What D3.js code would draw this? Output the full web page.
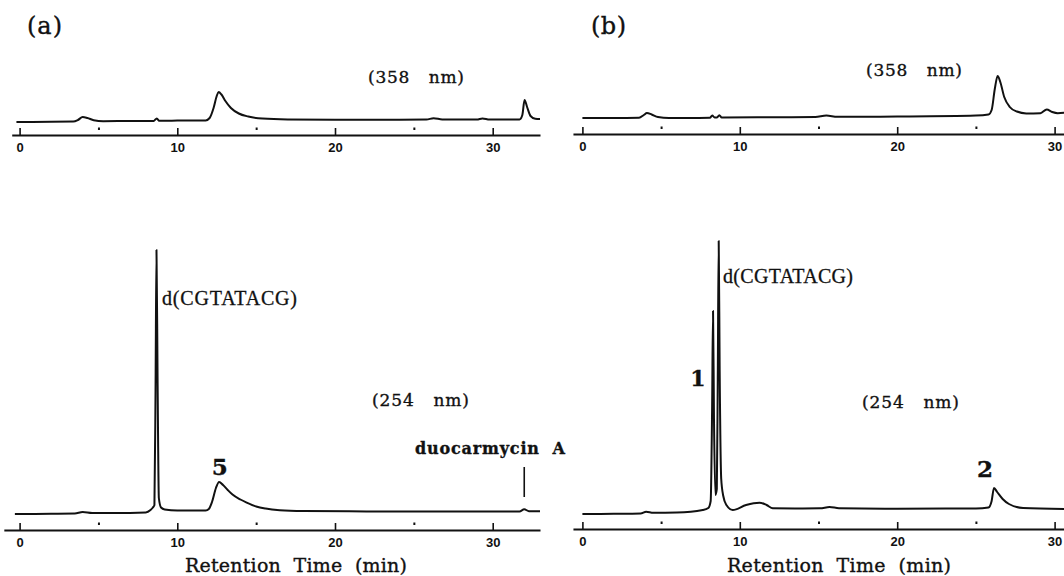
<!DOCTYPE html>
<html>
<head>
<meta charset="utf-8">
<script src="https://cdn.jsdelivr.net/npm/d3@7"></script>
<style>
  html, body { margin: 0; padding: 0; background: #fff; }
  svg { display: block; }
  .serif { font-family: "DejaVu Serif", serif; fill: #111; stroke: #111; stroke-width: 0.35px; }
  .times { font-family: "Liberation Serif", "Times New Roman", serif; fill: #111; stroke: #111; stroke-width: 0.3px; }
</style>
</head>
<body>
<svg id="chart" width="1064" height="576"></svg>
<script>
// ---------------- data (retention time in min, absorbance in arbitrary units) ----------------
const majorTicks = [0, 10, 20, 30];
const minorTicks = [5, 15, 25];

// (a) 358 nm
const traceA358 = [
  [-0.2,13],[2,13.2],[3.4,13.4],[3.7,15],[4.0,18],[4.3,17],[4.7,14.8],[5.3,13.8],[7,14],[8.5,14.1],
  [8.7,16.5],[8.85,14.3],[10,14.4],[11.8,14.6],[12.05,17],[12.3,27],[12.5,39],[12.62,43],[12.8,40.5],
  [13.05,34],[13.4,27],[13.9,21.5],[14.5,18.5],[15.4,16.4],[17,15.5],[20,15.2],[23,15.2],[25.8,15.4],
  [26.25,16.8],[26.8,15.6],[29,15.4],[29.35,16.6],[29.8,15.5],[31.7,15.5],[31.88,20],[32.02,35],
  [32.18,28],[32.4,19],[32.7,16.3],[33.0,16]
];
// (a) 254 nm
const traceA254 = [
  [-0.3,16],[2,16.2],[3.5,16.4],[4.0,18],[4.6,17],[6,17],[8,17.6],[8.3,20],[8.45,22.5],[8.55,25],
  [8.62,140],[8.68,280],[8.75,150],[8.83,32],[8.97,22.5],[9.2,20.5],[10,19.5],[11.8,19.5],[12.0,21],
  [12.2,28],[12.45,42],[12.65,48],[12.9,45],[13.2,40],[13.5,35.5],[14,30.5],[14.4,27.4],[15,23.5],
  [15.6,21.4],[16.5,19.8],[18,19],[22,18.6],[26,18.6],[31.7,18.6],[32.0,20.7],[32.3,18.8],[33.0,18.7]
];
// (b) 358 nm
const traceB358 = [
  [0,16],[2,16],[3.6,16.3],[3.9,19],[4.1,21],[4.4,19.5],[4.8,17],[5.5,16],[8.1,16.2],[8.25,18.5],
  [8.4,16.5],[8.55,16.6],[8.7,18.8],[8.85,16.6],[12,16.8],[14.8,17],[15.5,18.5],[16.2,17.2],[20,17.5],
  [25,18.5],[25.8,19.5],[26.0,24],[26.2,45],[26.38,58],[26.55,52],[26.8,37],[27.15,27],[27.6,22.5],
  [28.2,20.6],[29.1,20.8],[29.5,24.5],[29.85,22],[30.2,20.8],[30.6,21.2]
];
// (b) 254 nm
const traceB254 = [
  [0,15],[2,15.2],[3.7,15.5],[4.05,17.3],[4.5,16.2],[6,16.5],[7.65,19],[8.0,21],[8.15,28],[8.24,120],
  [8.3,218],[8.36,110],[8.45,34],[8.54,40],[8.6,150],[8.66,288],[8.72,160],[8.82,50],[8.95,33],
  [9.15,24],[9.55,19],[10.4,24],[11.25,26.3],[11.7,24],[12.1,20.7],[13.5,20.5],[15.1,20.7],[15.7,22],
  [16.3,20.8],[20,20.3],[25,20.5],[25.8,21.5],[26.0,28],[26.15,41],[26.35,37],[26.7,30],[27.1,25],
  [28.0,21],[30.6,20]
];

// ---------------- layout ----------------
const svg = d3.select("#chart");

function makeX(zeroPx, pxPerMin, tMin, tMax) {
  return d3.scaleLinear().domain([tMin, tMax]).range([zeroPx + tMin * pxPerMin, zeroPx + tMax * pxPerMin]);
}

const panels = [
  { x: makeX(19.6, 15.77, -0.5, 33.0), axisY: 135, yMax: 60,  data: traceA358 },
  { x: makeX(19.6, 15.77, -1.0, 33.0), axisY: 530, yMax: 300, data: traceA254 },
  { x: makeX(582.4, 15.74, -0.6, 30.6), axisY: 134, yMax: 60,  data: traceB358 },
  { x: makeX(582.4, 15.74, -0.6, 30.6), axisY: 529, yMax: 300, data: traceB254 }
];

panels.forEach(p => {
  p.y = d3.scaleLinear().domain([0, p.yMax]).range([p.axisY, p.axisY - p.yMax]);

  const axis = d3.axisBottom(p.x).tickValues(majorTicks).tickFormat(d3.format("d"))
    .tickSizeInner(-7).tickSizeOuter(0).tickPadding(8);
  const g = svg.append("g").attr("transform", `translate(0,${p.axisY})`).call(axis);
  g.select(".domain").attr("stroke", "#111").attr("stroke-width", 2.2);
  g.selectAll(".tick line").attr("stroke", "#111").attr("stroke-width", 1.6);
  g.selectAll(".tick text")
    .style("font-family", "'Liberation Sans', Arial, sans-serif")
    .style("font-weight", "bold").style("font-size", "13px").style("fill", "#111");

  const minor = d3.axisBottom(p.x).tickValues(minorTicks).tickFormat("").tickSizeInner(-2.5).tickSizeOuter(0);
  const gm = svg.append("g").attr("transform", `translate(0,${p.axisY - 5})`).call(minor);
  gm.select(".domain").remove();
  gm.selectAll(".tick line").attr("stroke", "#111").attr("stroke-width", 2);

  const line = d3.line().x(d => p.x(d[0])).y(d => p.y(d[1])).curve(d3.curveMonotoneX);
  svg.append("path").datum(p.data).attr("d", line)
    .attr("fill", "none").attr("stroke", "#111").attr("stroke-width", 2)
    .attr("stroke-linejoin", "round");
});

const [pA358, pA254, pB358, pB254] = panels;

// duocarmycin A marker
svg.append("line")
  .attr("x1", pA254.x(32.0)).attr("x2", pA254.x(32.0))
  .attr("y1", pA254.y(33)).attr("y2", pA254.y(63))
  .attr("stroke", "#111").attr("stroke-width", 1.6);

// ---------------- text ----------------
function txt(x, y, s, cls, size, opts = {}) {
  const t = svg.append("text").attr("x", x).attr("y", y).attr("class", cls)
    .attr("font-size", size).attr("xml:space", "preserve").style("white-space", "pre").text(s);
  if (opts.bold) t.attr("font-weight", "bold");
  if (opts.len) t.attr("textLength", opts.len);
  if (opts.anchor) t.attr("text-anchor", opts.anchor);
  return t;
}

txt(27, 34, "(a)", "serif", 24, { len: 35 });
txt(591, 34, "(b)", "serif", 24, { len: 35 });

txt(368, 83, "(358   nm)", "serif", 17, { len: 96 });
txt(866, 76, "(358   nm)", "serif", 17, { len: 96 });

txt(372, 406, "(254   nm)", "serif", 17, { len: 97 });
txt(862, 408, "(254   nm)", "serif", 17, { len: 97 });

txt(162, 305, "d(CGTATACG)", "times", 20, { len: 135 });
txt(723, 283, "d(CGTATACG)", "times", 20, { len: 130 });

txt(415, 454, "duocarmycin  A", "serif", 16, { bold: true, len: 150 });

txt(pA254.x(12.7), 475, "5", "serif", 23, { bold: true, anchor: "middle" });
txt(698, 386, "1", "serif", 22, { bold: true, anchor: "middle" });
txt(985, 477, "2", "serif", 23, { bold: true, anchor: "middle" });

txt(185, 572, "Retention  Time  (min)", "serif", 19, { len: 222 });
txt(727, 572, "Retention  Time  (min)", "serif", 19, { len: 224 });
</script>
</body>
</html>
